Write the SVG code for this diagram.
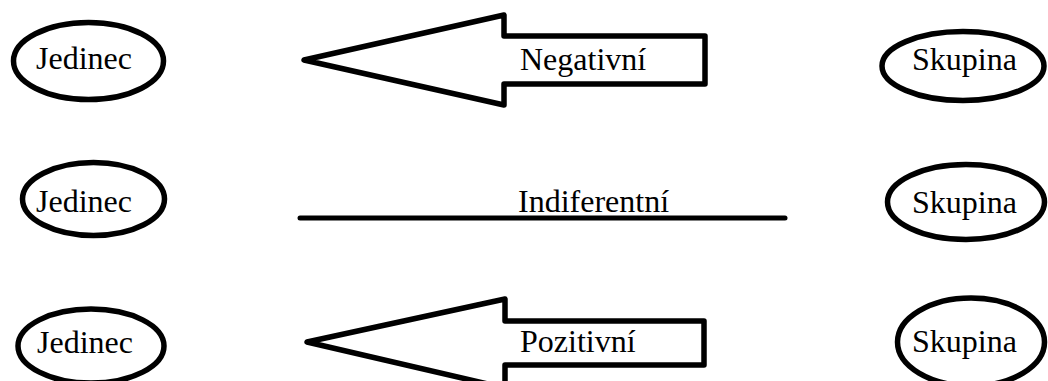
<svg xmlns="http://www.w3.org/2000/svg" width="1048" height="381" viewBox="0 0 1048 381">
<style>
.n{fill:#fff;stroke:#000;stroke-width:5.5}
.t{font-family:"Liberation Serif","Times New Roman",serif;font-size:32px;fill:#000}
.a{fill:#fff;stroke:#000;stroke-width:5.5;stroke-linejoin:round}
.l{stroke:#000;stroke-width:5;stroke-linecap:round;fill:none}
</style>
<rect width="1048" height="381" fill="#fff"/>
<g id="connectors">
<g id="c-negativni">
<polygon class="a" points="304,60 504,15 504,36 705,36 705,84 504,84 504,105"/>
<text class="t" x="520" y="70">Negativní</text>
</g>
<g id="c-indiferentni">
<line class="l" x1="300" y1="218" x2="785" y2="218"/>
<text class="t" x="518" y="212">Indiferentní</text>
</g>
<g id="c-pozitivni">
<polygon class="a" points="307,342 505,299 505,321 704,321 704,365 505,365 505,388"/>
<text class="t" x="520" y="352">Pozitivní</text>
</g>
</g>
<g id="jedinec1"><ellipse class="n" cx="88.5" cy="61" rx="75" ry="38.5"/><text class="t" x="36" y="69">Jedinec</text></g>
<g id="jedinec2"><ellipse class="n" cx="93.5" cy="199" rx="71" ry="36.5"/><text class="t" x="36" y="212">Jedinec</text></g>
<g id="jedinec3"><ellipse class="n" cx="91" cy="346" rx="73" ry="37"/><text class="t" x="37" y="353">Jedinec</text></g>
<g id="skupina1"><ellipse class="n" cx="963" cy="66" rx="81" ry="34.5"/><text class="t" x="912" y="70">Skupina</text></g>
<g id="skupina2"><ellipse class="n" cx="966" cy="202" rx="78.5" ry="37.5"/><text class="t" x="912" y="213">Skupina</text></g>
<g id="skupina3"><ellipse class="n" cx="971" cy="342" rx="73.5" ry="44"/><text class="t" x="912" y="352">Skupina</text></g>
</svg>
